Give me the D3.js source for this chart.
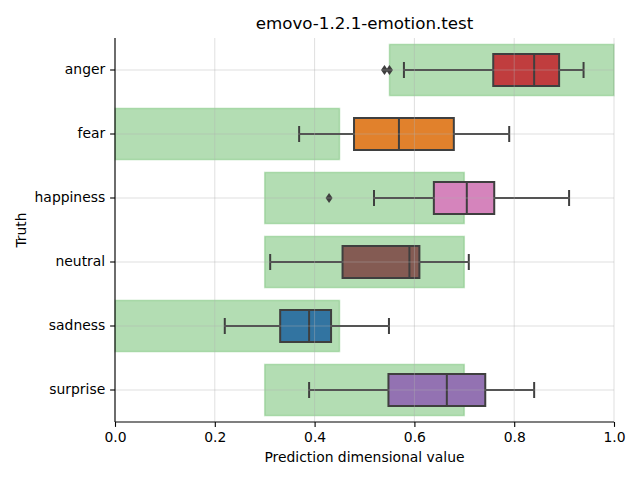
<!DOCTYPE html>
<html><head><meta charset="utf-8">
<script src="https://cdn.jsdelivr.net/npm/d3@7"></script>
<style>body{margin:0;background:#fff}svg{font-family:"DejaVu Sans",sans-serif}</style>
</head><body><svg id="c" width="640" height="480"></svg>
<script>
const categories = ["anger","fear","happiness","neutral","sadness","surprise"];
const boxColors = ["#c03d3e","#e1812c","#d584bc","#845b53","#3274a1","#9372b2"];
const whiskerLow  = [0.579,0.369,0.519,0.311,0.220,0.389];
const q1          = [0.758,0.479,0.639,0.456,0.331,0.548];
const median      = [0.840,0.569,0.705,0.590,0.389,0.665];
const q3          = [0.890,0.679,0.760,0.610,0.433,0.742];
const whiskerHigh = [0.939,0.790,0.910,0.709,0.549,0.840];
const outliers    = [[0.540,0.550],[],[0.429],[],[],[]];
const rangeLow    = [0.55,0.0,0.3,0.3,0.0,0.3];
const rangeHigh   = [1.0,0.45,0.7,0.7,0.45,0.7];
const xTicks = [0,0.2,0.4,0.6,0.8,1.0];

const svg = d3.select("#c");
const L=115,R=614,T=38,B=422;
const x = d3.scaleLinear().domain([0,1]).range([L,R]);
const y = d3.scaleBand().domain(categories).range([T,B]).padding(0);
const bw = y.bandwidth();

svg.append("g").selectAll("rect").data(categories).join("rect")
  .attr("x",(d,i)=>x(rangeLow[i])).attr("width",(d,i)=>x(rangeHigh[i])-x(rangeLow[i]))
  .attr("y",d=>y(d)+bw*0.1).attr("height",bw*0.8)
  .attr("fill","#2ca02c").attr("fill-opacity",0.36)
  .attr("stroke","#2ca02c").attr("stroke-opacity",0.25).attr("stroke-width",1.5);

const g = svg.append("g");
categories.forEach((c,i)=>{
  const cy = y(c)+bw/2, h=bw*0.5;
  const col="#3f3f3f";
  g.append("line").attr("x1",x(whiskerLow[i])).attr("x2",x(q1[i])).attr("y1",cy).attr("y2",cy).attr("stroke",col).attr("stroke-width",2);
  g.append("line").attr("x1",x(q3[i])).attr("x2",x(whiskerHigh[i])).attr("y1",cy).attr("y2",cy).attr("stroke",col).attr("stroke-width",2);
  [whiskerLow[i],whiskerHigh[i]].forEach(v=>g.append("line").attr("x1",x(v)).attr("x2",x(v)).attr("y1",cy-h/4).attr("y2",cy+h/4).attr("stroke",col).attr("stroke-width",2));
  g.append("rect").attr("x",x(q1[i])).attr("width",x(q3[i])-x(q1[i])).attr("y",cy-h/2).attr("height",h)
    .attr("fill",boxColors[i]).attr("stroke",col).attr("stroke-width",2);
  g.append("line").attr("x1",x(median[i])).attr("x2",x(median[i])).attr("y1",cy-h/2).attr("y2",cy+h/2).attr("stroke",col).attr("stroke-width",2);
  outliers[i].forEach(v=>{
    g.append("path").attr("d",`M${x(v)},${cy-5}L${x(v)+3.5},${cy}L${x(v)},${cy+5}L${x(v)-3.5},${cy}Z`).attr("fill",col);
  });
});

const grid = svg.append("g").attr("stroke","#b0b0b0").attr("stroke-opacity",0.5).attr("stroke-width",0.8);
xTicks.forEach(t=>grid.append("line").attr("x1",x(t)).attr("x2",x(t)).attr("y1",T).attr("y2",B));
categories.forEach(c=>grid.append("line").attr("x1",L).attr("x2",R).attr("y1",y(c)+bw/2).attr("y2",y(c)+bw/2));

const xa = svg.append("g").attr("transform",`translate(0,${B})`)
  .call(d3.axisBottom(x).tickValues(xTicks).tickFormat(d3.format(".1f")).tickSize(4.9).tickPadding(4.9));
const ya = svg.append("g").attr("transform",`translate(${L},0)`)
  .call(d3.axisLeft(y).tickSize(4.9).tickPadding(4.9));
[xa,ya].forEach(a=>{
  a.selectAll("text").attr("font-size",13.9).attr("font-family","DejaVu Sans").attr("fill","#000");
  a.selectAll("line").attr("stroke","#000").attr("stroke-width",1.1);
  a.select(".domain").attr("stroke","#000").attr("stroke-width",1.1);
});
xa.select(".domain").attr("d",`M${L},0H${R}`);
ya.select(".domain").attr("d",`M0,${T}V${B}`);

svg.append("text").attr("x",(L+R)/2).attr("y",29).attr("text-anchor","middle").attr("font-size",16.7).text("emovo-1.2.1-emotion.test");
svg.append("text").attr("x",(L+R)/2).attr("y",462).attr("text-anchor","middle").attr("font-size",13.9).text("Prediction dimensional value");
svg.append("text").attr("transform",`translate(26,${(T+B)/2}) rotate(-90)`).attr("text-anchor","middle").attr("font-size",13.9).text("Truth");
</script></body></html>
